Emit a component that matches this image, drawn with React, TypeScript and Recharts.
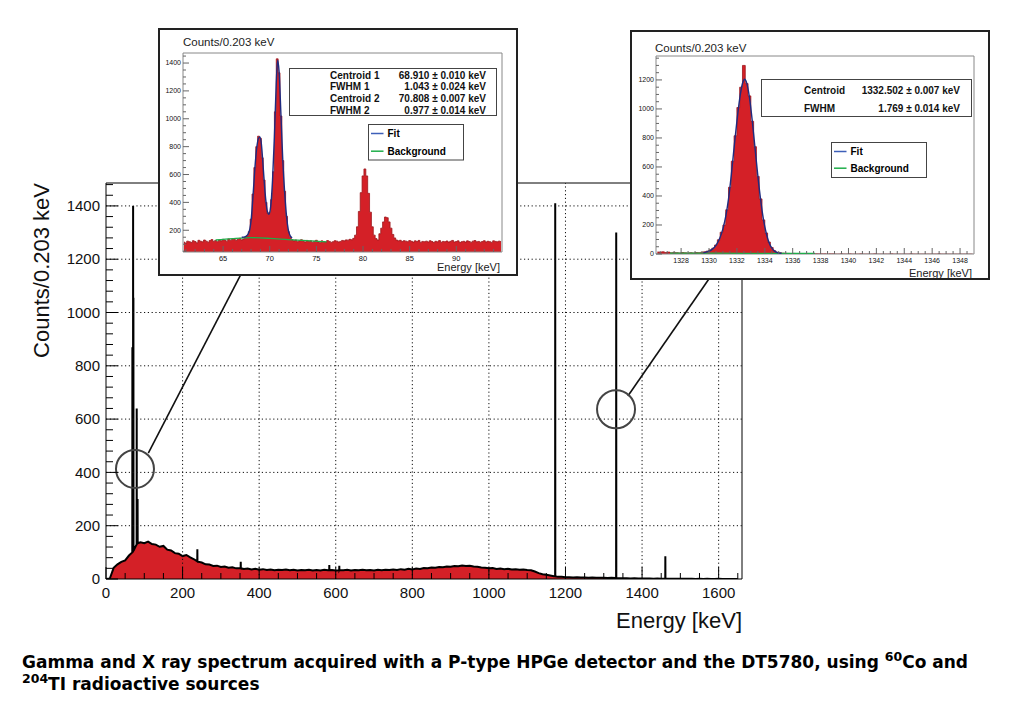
import React from 'react';
import { ComposedChart, Area, Line, XAxis, YAxis, ReferenceLine, ReferenceArea, ReferenceDot } from 'recharts';

// ---- main spectrum (0 - 1660 keV) ----
const continuumStep = 10;
const continuumCounts = [
  0, 2, 42, 55, 64, 70, 88, 104, 128, 138,
  134, 140, 131, 129, 121, 124, 110, 107, 97, 95,
  86, 90, 81, 74, 65, 62, 55, 54, 49, 50,
  45, 47, 42, 44, 40, 41, 38, 39, 36, 38,
  35, 37, 34, 36, 33, 35, 34, 36, 33, 35,
  32, 34, 33, 35, 32, 34, 32, 35, 33, 34,
  32, 34, 33, 35, 32, 34, 33, 35, 33, 34,
  32, 35, 33, 35, 34, 36, 34, 37, 35, 38,
  36, 39, 38, 41, 40, 43, 42, 45, 44, 47,
  46, 49, 48, 51, 49, 50, 47, 46, 43, 42,
  40, 41, 38, 39, 37, 38, 36, 37, 35, 36,
  34, 33, 28, 22, 18, 16, 13, 10, 8, 8,
  7, 7, 6, 7, 6, 6, 5, 6, 5, 5,
  5, 4, 5, 4, 3, 3, 3, 2, 3, 2,
  2, 2, 2, 1, 2, 1, 1, 1, 1, 1,
  1, 1, 1, 1, 0, 1, 0, 1, 0, 0,
  1, 0, 0, 0, 0, 0,
];

// [energy keV, continuum under the line, top of the line]
const mainPeaks: [number, number, number][] = [
  [68.9, 100, 870],
  [70.8, 104, 1400],
  [71.6, 106, 1055],
  [80.2, 130, 640],
  [82.5, 134, 300],
  [238.6, 66, 112],
  [351.9, 40, 65],
  [583.2, 33, 52],
  [609.3, 33, 50],
  [1173.2, 10, 1410],
  [1332.5, 4, 1300],
  [1460.8, 1, 85],
];

const mainXMajor = [0, 200, 400, 600, 800, 1000, 1200, 1400, 1600];
const mainYMajor = [0, 200, 400, 600, 800, 1000, 1200, 1400];
const mainGridX = [200, 400, 600, 800, 1000, 1200, 1400, 1600];
const mainGridY = [200, 400, 600, 800, 1000, 1200, 1400];

// ---- left inset: X rays 61 - 95 keV, bins of 0.2 keV ----
const xrayBinStart = 60.8;
const xrayBinWidth = 0.2;
const xrayCounts = [
  115, 108, 122, 118, 112, 125, 119, 110, 128, 121,
  117, 130, 122, 114, 126, 133, 120, 127, 118, 131,
  124, 135, 128, 122, 138, 129, 134, 141, 127, 136,
  142, 131, 138, 150, 160, 190, 280, 460, 650, 800,
  875, 860, 720, 560, 400, 320, 330, 420, 620, 1050,
  1430, 1330, 1020, 700, 480, 300, 190, 150, 132, 124,
  130, 118, 125, 132, 121, 116, 127, 119, 124, 113,
  121, 128, 117, 111, 124, 119, 115, 126, 120, 113,
  118, 125, 122, 116, 120, 127, 124, 131, 129, 135,
  132, 142, 165, 225, 335, 470, 590, 640, 590, 465,
  330, 225, 165, 140, 130, 175, 215, 260, 295, 290,
  260, 215, 170, 145, 130, 124, 128, 119, 125, 122,
  118, 126, 121, 115, 124, 119, 127, 113, 120, 118,
  122, 116, 125, 119, 112, 121, 117, 126, 114, 120,
  118, 123, 115, 121, 127, 116, 119, 124, 112, 118,
  121, 115, 124, 119, 113, 122, 126, 117, 120, 114,
  119, 125, 116, 121, 118, 113, 124, 120, 117, 122, 119,
];
const xrayFit: [number, number][] = [
  [67.0, 150], [67.4, 155], [67.7, 175], [68.0, 270], [68.2, 440], [68.4, 640], [68.6, 790],
  [68.8, 860], [68.95, 870], [69.1, 820], [69.3, 650], [69.5, 470], [69.7, 350], [69.9, 315],
  [70.1, 370], [70.3, 560], [70.5, 870], [70.7, 1260], [70.85, 1420], [71.0, 1340], [71.2, 1030],
  [71.4, 700], [71.6, 470], [71.8, 300], [72.0, 200], [72.2, 160], [72.4, 145],
];
const xrayBackground: [number, number][] = [
  [64.2, 130], [66, 140], [68, 147], [70, 142], [72, 133], [74, 125], [76.1, 116],
];
const xrayXMajor = [65, 70, 75, 80, 85, 90];
const xrayYMajor = [200, 400, 600, 800, 1000, 1200, 1400];
const xrayStats = [
  ['Centroid 1', '68.910 \u00b1 0.010 keV'],
  ['FWHM 1', '1.043 \u00b1 0.024 keV'],
  ['Centroid 2', '70.808 \u00b1 0.007 keV'],
  ['FWHM 2', '0.977 \u00b1 0.014 keV'],
];

// ---- right inset: 60Co 1332 keV line, bins of 0.2 keV ----
const coBinStart = 1326.3;
const coBinWidth = 0.2;
const coCounts = [
  14, 12, 15, 10, 13, 8, 11, 9, 7, 10,
  8, 6, 9, 7, 10, 9, 12, 15, 20, 28,
  40, 62, 98, 150, 200, 305, 460, 640, 815, 1010,
  1150, 1300, 1175, 1090, 915, 740, 535, 380, 235, 145,
  82, 45, 22, 12, 8, 6, 5, 4, 3, 4,
  3, 2, 3, 2, 1, 2, 1, 2, 1, 1,
  1, 0, 1, 1, 0, 0, 1, 0, 0, 1,
  0, 0, 0, 1, 0, 0, 0, 0, 1, 0,
  0, 0, 0, 0, 1, 0, 0, 0, 0, 0,
  0, 1, 0, 0, 0, 0, 0, 0, 0, 0,
  0, 1, 0, 0, 0, 0, 0, 0, 0, 0,
  0, 0, 0, 0,
];
const coFit: [number, number][] = [
  [1329.6, 8], [1329.9, 16], [1330.2, 30], [1330.5, 60], [1330.8, 115], [1331.0, 175],
  [1331.2, 260], [1331.4, 380], [1331.6, 545], [1331.8, 735], [1332.0, 915], [1332.2, 1070],
  [1332.4, 1175], [1332.55, 1205], [1332.7, 1180], [1332.9, 1080], [1333.1, 920], [1333.3, 730],
  [1333.5, 540], [1333.7, 375], [1333.9, 240], [1334.1, 145], [1334.3, 80], [1334.5, 42],
  [1334.7, 20], [1334.9, 10], [1335.2, 5],
];
const coBackground: [number, number][] = [
  [1327.2, 6], [1330, 6], [1332.5, 5], [1335, 5], [1337.6, 4],
];
const coXMajor = [1328, 1330, 1332, 1334, 1336, 1338, 1340, 1342, 1344, 1346, 1348];
const coYMajor = [0, 200, 400, 600, 800, 1000, 1200];
const coStats = [
  ['Centroid', '1332.502 \u00b1 0.007 keV'],
  ['FWHM', '1.769 \u00b1 0.014 keV'],
];

const RED = '#d42027';
const FIT = '#1f2b80';
const BG = '#1fae4a';
const font = 'Liberation Sans, Arial, Helvetica, sans-serif';

// tick positions only (labels come from the *Major arrays)
const range = (a: number, b: number, s: number) => {
  const out: number[] = [];
  for (let v = a; v <= b + 1e-9; v += s) out.push(+v.toFixed(3));
  return out;
};

const pairs = (p: [number, number][]) => p.map(([e, c]) => ({ e, c }));
const bins = (start: number, w: number, counts: number[]) => counts.map((c, i) => ({ e: +(start + i * w).toFixed(3), c }));

const spectrum = [
  ...continuumCounts.map((c, i) => ({ e: i * continuumStep, c })),
  ...mainPeaks.flatMap(([e, base, h]) => [
    { e: e - 0.25, c: base },
    { e, c: h },
    { e: e + 0.25, c: base },
  ]),
].sort((a, b) => a.e - b.e);

const isMajor = (majors: number[], v: number) => majors.some((m) => Math.abs(m - v) < 1e-6);

// ROOT style ticks: drawn inside the frame
const xTick = (majors: number[], big: number, small: number, size: number, gap: number, color: string) => (p: any) => {
  const v = p.payload.value;
  const major = isMajor(majors, v);
  return (
    <g>
      <line x1={p.x} x2={p.x} y1={p.y} y2={p.y - (major ? big : small)} stroke={color} strokeWidth={1} />
      {major && (
        <text x={p.x} y={p.y + gap} textAnchor="middle" fontSize={size} fontFamily={font} fill="#111">
          {v}
        </text>
      )}
    </g>
  );
};

const yTick = (majors: number[], big: number, small: number, size: number, gap: number, color: string) => (p: any) => {
  const v = p.payload.value;
  const major = isMajor(majors, v);
  return (
    <g>
      <line x1={p.x} x2={p.x + (major ? big : small)} y1={p.y} y2={p.y} stroke={color} strokeWidth={1} />
      {major && (
        <text x={p.x - gap} y={p.y} dy="0.35em" textAnchor="end" fontSize={size} fontFamily={font} fill="#111">
          {v}
        </text>
      )}
    </g>
  );
};

const Legend = ({ x, y, w, h, gap }: { x: number; y: number; w: number; h: number; gap: number }) => (
  <g fontFamily={font} fontWeight="bold" fontSize={10}>
    <rect x={x} y={y} width={w} height={h} fill="#fff" stroke="#444" />
    <line x1={x + 2.5} x2={x + 15} y1={y + 9} y2={y + 9} stroke="#3d5fb8" strokeWidth={1.5} />
    <text x={x + 19} y={y + 12.5}>Fit</text>
    <line x1={x + 2.5} x2={x + 15} y1={y + 9 + gap} y2={y + 9 + gap} stroke={BG} strokeWidth={1.5} />
    <text x={x + 19} y={y + 12.5 + gap}>Background</text>
  </g>
);

const XrayInset = () => (
  <div style={{ position: 'absolute', left: 158, top: 28, width: 360, height: 248, border: '2px solid #222', boxSizing: 'border-box', background: '#fff', overflow: 'hidden' }}>
    <ComposedChart width={356} height={244} margin={{ top: 23, right: 14, bottom: 10, left: 3 }}>
      <XAxis dataKey="e" type="number" domain={[60.7, 94.9]} allowDataOverflow ticks={range(61, 94, 1)} interval={0}
        tickSize={0} tickMargin={0} axisLine={false} tickLine={false} height={12}
        tick={xTick(xrayXMajor, 6, 3, 7.5, 9, '#666')} />
      <YAxis type="number" domain={[44, 1472]} allowDataOverflow ticks={range(50, 1450, 50)} interval={0}
        tickSize={0} tickMargin={0} axisLine={false} tickLine={false} width={20}
        tick={yTick(xrayYMajor, 6, 3, 7, 2, '#666')} />
      <Area data={bins(xrayBinStart, xrayBinWidth, xrayCounts)} dataKey="c" type="step" fill={RED} fillOpacity={1}
        stroke="#9c161c" strokeWidth={0.8} isAnimationActive={false} />
      <Line data={pairs(xrayBackground)} dataKey="c" type="monotone" stroke={BG} strokeWidth={1.3} dot={false} isAnimationActive={false} />
      <Line data={pairs(xrayFit)} dataKey="c" type="monotone" stroke={FIT} strokeWidth={1.4} dot={false} isAnimationActive={false} />
      <ReferenceArea x1={60.7} x2={94.9} y1={44} y2={1472} fill="none" stroke="#888" ifOverflow="visible" />
    </ComposedChart>
    <svg width={356} height={244} style={{ position: 'absolute', left: 0, top: 0, pointerEvents: 'none' }}>
      <text x={23} y={16} fontFamily={font} fontSize={11.5} fill="#222">Counts/0.203 keV</text>
      <text x={340} y={241} textAnchor="end" fontFamily={font} fontSize={11} fill="#222">Energy [keV]</text>
      <rect x={129.5} y={38.5} width={207} height={47} fill="#fff" stroke="#444" />
      <g fontFamily={font} fontWeight="bold" fontSize={10} fill="#111">
        {xrayStats.map(([k, v], i) => (
          <g key={k}>
            <text x={170} y={48.8 + i * 11.6}>{k}</text>
            <text x={326} y={48.8 + i * 11.6} textAnchor="end">{v}</text>
          </g>
        ))}
      </g>
      <Legend x={208.5} y={94.5} w={95} h={35.5} gap={17.7} />
    </svg>
  </div>
);

const CoInset = () => (
  <div style={{ position: 'absolute', left: 630, top: 30, width: 360, height: 250, border: '2px solid #222', boxSizing: 'border-box', background: '#fff', overflow: 'hidden' }}>
    <ComposedChart width={356} height={246} margin={{ top: 24, right: 14, bottom: 12, left: 4 }}>
      <XAxis dataKey="e" type="number" domain={[1326.2, 1349]} allowDataOverflow ticks={range(1326.5, 1348.5, 0.5)} interval={0}
        tickSize={0} tickMargin={0} axisLine={false} tickLine={false} height={12}
        tick={xTick(coXMajor, 6, 3, 7, 9, '#666')} />
      <YAxis type="number" domain={[0, 1365]} allowDataOverflow ticks={range(0, 1350, 50)} interval={0}
        tickSize={0} tickMargin={0} axisLine={false} tickLine={false} width={20}
        tick={yTick(coYMajor, 6, 3, 7, 2, '#666')} />
      <Area data={bins(coBinStart, coBinWidth, coCounts)} dataKey="c" type="step" fill={RED} fillOpacity={1}
        stroke="#9c161c" strokeWidth={0.8} isAnimationActive={false} />
      <Line data={pairs(coBackground)} dataKey="c" type="monotone" stroke={BG} strokeWidth={1.3} dot={false} isAnimationActive={false} />
      <Line data={pairs(coFit)} dataKey="c" type="monotone" stroke={FIT} strokeWidth={1.4} dot={false} isAnimationActive={false} />
      <ReferenceArea x1={1326.2} x2={1349} y1={0} y2={1365} fill="none" stroke="#888" ifOverflow="visible" />
    </ComposedChart>
    <svg width={356} height={246} style={{ position: 'absolute', left: 0, top: 0, pointerEvents: 'none' }}>
      <text x={23} y={20} fontFamily={font} fontSize={11.5} fill="#222">Counts/0.203 keV</text>
      <text x={340} y={245} textAnchor="end" fontFamily={font} fontSize={11} fill="#222">Energy [keV]</text>
      <rect x={129.5} y={47.5} width={210} height={37} fill="#fff" stroke="#444" />
      <g fontFamily={font} fontWeight="bold" fontSize={10} fill="#111">
        {coStats.map(([k, v], i) => (
          <g key={k}>
            <text x={172} y={61.8 + i * 18}>{k}</text>
            <text x={328} y={61.8 + i * 18} textAnchor="end">{v}</text>
          </g>
        ))}
      </g>
      <Legend x={199.5} y={110.5} w={95} h={35} gap={16.7} />
    </svg>
  </div>
);

export default function App() {
  return (
    <div style={{ position: 'absolute', left: 0, top: 0, width: 1024, height: 703, background: '#fff', overflow: 'hidden' }}>
      <ComposedChart width={1024} height={703} data={spectrum} margin={{ top: 183, right: 282, bottom: 94, left: 46 }}>
        <XAxis dataKey="e" type="number" domain={[0, 1661]} allowDataOverflow ticks={range(0, 1650, 50)} interval={0}
          tickSize={0} tickMargin={0} axisLine={false} tickLine={false} height={30}
          tick={xTick(mainXMajor, 12, 6, 15, 19, '#000')} />
        <YAxis type="number" domain={[0, 1486]} allowDataOverflow ticks={range(0, 1480, 40)} interval={0}
          tickSize={0} tickMargin={0} axisLine={false} tickLine={false} width={60}
          tick={yTick(mainYMajor, 12, 7, 15, 6, '#000')} />
        {mainGridX.map((v) => (
          <ReferenceLine key={'gx' + v} x={v} stroke="#111" strokeDasharray="1.2 2.6" />
        ))}
        {mainGridY.map((v) => (
          <ReferenceLine key={'gy' + v} y={v} stroke="#111" strokeDasharray="1.2 2.6" />
        ))}
        <Area dataKey="c" type="linear" fill={RED} fillOpacity={1} stroke="#000" strokeWidth={2} isAnimationActive={false} />
        <ReferenceArea x1={0} x2={1661} y1={0} y2={1486} fill="none" stroke="#000" ifOverflow="visible" />
        <ReferenceDot x={75.7} y={413} r={19} fill="none" stroke="#444" strokeWidth={2} ifOverflow="visible" />
        <ReferenceDot x={1332} y={637} r={19} fill="none" stroke="#444" strokeWidth={2} ifOverflow="visible" />
        <ReferenceLine segment={[{ x: 110.5, y: 472 }, { x: 355, y: 1151 }]} stroke="#111" strokeWidth={1.6} ifOverflow="visible" />
        <ReferenceLine segment={[{ x: 1363, y: 687 }, { x: 1580, y: 1137 }]} stroke="#111" strokeWidth={1.6} ifOverflow="visible" />
      </ComposedChart>
      <svg width={1024} height={703} style={{ position: 'absolute', left: 0, top: 0, pointerEvents: 'none' }}>
        <text transform="translate(49,183) rotate(-90)" textAnchor="end" fontFamily={font} fontSize={22} fill="#111">
          Counts/0.203 keV
        </text>
        <text x={742} y={628} textAnchor="end" fontFamily={font} fontSize={22} fill="#111">
          Energy [keV]
        </text>
        <g fontFamily="DejaVu Sans, sans-serif" fontWeight="bold" fontSize={17} fill="#000">
          <text x={22} y={668}>
            Gamma and X ray spectrum acquired with a P-type HPGe detector and the DT5780, using{' '}
            <tspan fontSize={12.5} dy={-7}>60</tspan>
            <tspan dy={7}>Co and</tspan>
          </text>
          <text x={22} y={690}>
            <tspan fontSize={12.5} dy={-7}>204</tspan>
            <tspan dy={7}>TI radioactive sources</tspan>
          </text>
        </g>
      </svg>
      <XrayInset />
      <CoInset />
    </div>
  );
}
